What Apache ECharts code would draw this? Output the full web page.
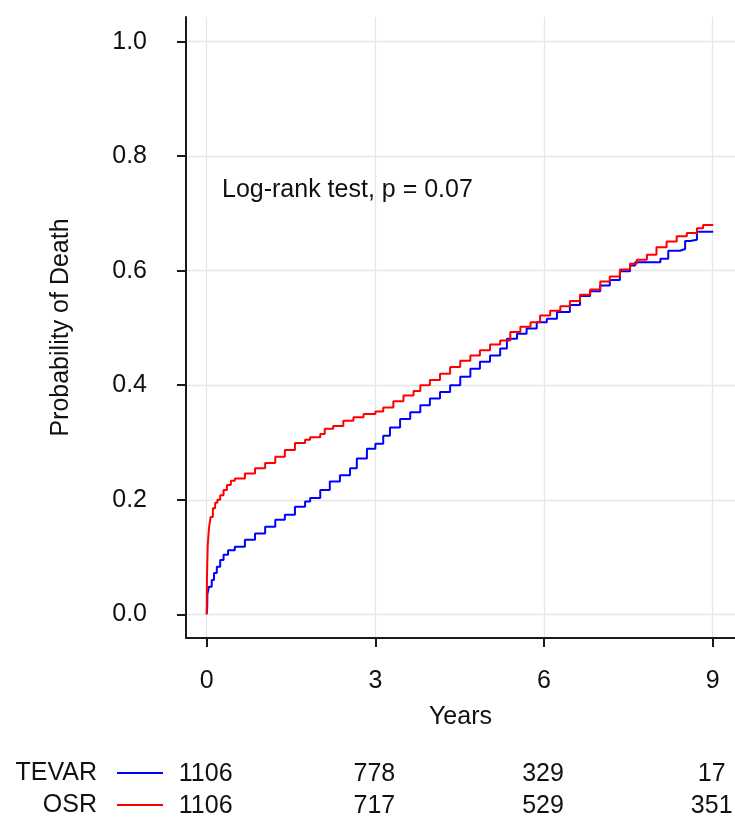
<!DOCTYPE html>
<html>
<head>
<meta charset="utf-8">
<script src="https://cdn.jsdelivr.net/npm/echarts@6/dist/echarts.min.js"></script>
<style>
html,body{margin:0;padding:0;background:#fff;}
#chart{width:735px;height:821px;}
</style>
</head>
<body>
<div id="chart"></div>
<script>
// ---- data ----
const groups = ['TEVAR', 'OSR'];
const groupColors = ['#0000ff', '#ff0000'];
const xTicks = [0, 3, 6, 9];
const yTicks = [0, 0.2, 0.4, 0.6, 0.8, 1.0];

// TEVAR cumulative probability of death [years, probability]
const tevarCurve = [
  [0,0],[0.01,0.013],[0.012,0.035],[0.04,0.048],[0.09,0.06],[0.13,0.072],[0.18,0.083],
  [0.24,0.095],[0.30,0.104],[0.38,0.112],[0.50,0.118],[0.68,0.130],[0.86,0.141],
  [1.04,0.153],[1.22,0.165],[1.39,0.174],[1.57,0.188],[1.75,0.197],[1.84,0.203],
  [2.02,0.217],[2.19,0.232],[2.37,0.243],[2.55,0.255],[2.67,0.272],[2.85,0.289],
  [3.00,0.298],[3.14,0.312],[3.26,0.326],[3.44,0.341],[3.62,0.353],[3.80,0.365],
  [3.97,0.377],[4.15,0.388],[4.33,0.400],[4.51,0.415],[4.69,0.429],[4.86,0.441],
  [5.04,0.452],[5.22,0.464],[5.34,0.481],[5.52,0.490],[5.69,0.499],[5.87,0.510],
  [6.05,0.516],[6.23,0.528],[6.46,0.540],[6.64,0.556],[6.82,0.564],[7.00,0.574],
  [7.17,0.584],[7.35,0.599],[7.53,0.609],[7.62,0.615],[8.07,0.621],[8.21,0.635],
  [8.42,0.638],[8.51,0.652],[8.60,0.654],[8.72,0.668],[9.01,0.668]
];

// OSR cumulative probability of death [years, probability]
const osrCurve = [
  [0,0],[0.005,0.065],[0.018,0.12],[0.04,0.15],[0.07,0.17],[0.11,0.185],[0.15,0.195],
  [0.19,0.2],[0.24,0.208],[0.30,0.217],[0.36,0.226],[0.43,0.233],[0.50,0.237],
  [0.68,0.246],[0.86,0.255],[1.04,0.264],[1.22,0.275],[1.39,0.287],[1.57,0.299],
  [1.75,0.305],[1.84,0.309],[2.02,0.315],[2.10,0.324],[2.25,0.329],[2.43,0.338],
  [2.61,0.344],[2.79,0.350],[3.00,0.354],[3.14,0.361],[3.32,0.372],[3.50,0.382],
  [3.68,0.390],[3.80,0.400],[3.97,0.409],[4.15,0.420],[4.33,0.432],[4.51,0.443],
  [4.69,0.452],[4.86,0.461],[5.04,0.471],[5.22,0.478],[5.40,0.493],[5.58,0.502],
  [5.76,0.510],[5.93,0.522],[6.11,0.530],[6.29,0.538],[6.46,0.547],[6.64,0.558],
  [6.82,0.567],[7.00,0.581],[7.17,0.590],[7.35,0.602],[7.53,0.612],[7.65,0.619],
  [7.83,0.628],[8.00,0.641],[8.18,0.651],[8.36,0.660],[8.54,0.666],[8.72,0.674],
  [8.83,0.680],[9.01,0.681]
];

// numbers at risk at xTicks
const tevarAtRisk = [1106, 778, 329, 17];
const osrAtRisk = [1106, 717, 529, 351];

const annotation = 'Log-rank test, p = 0.07';
const xName = 'Years';
const yName = 'Probability of Death';

// ---- chart ----
const FONT = "'Liberation Sans', Arial, sans-serif";
const FS = 25;
const TXT = '#111111';
const xMin = -0.368, xMax = 9.397;
const yMin = -0.0414, yMax = 1.0431;

const chart = echarts.init(document.getElementById('chart'), null, {renderer: 'canvas'});

function riskSeries(name, values) {
  return {
    type: 'scatter', xAxisIndex: 1, yAxisIndex: 1,
    symbolSize: 1, itemStyle: {color: 'rgba(255,255,255,0)'},
    silent: true,
    data: xTicks.map((t, i) => [t, name, values[i]]),
    label: {
      show: true, position: 'inside', offset: [-1, 1],
      formatter: p => String(p.value[2]),
      fontFamily: FONT, fontSize: FS, color: TXT,
      textBorderWidth: 0, opacity: 1
    }
  };
}

const option = {
  animation: false,
  backgroundColor: '#ffffff',
  textStyle: {fontFamily: FONT},
  grid: [
    {left: 186, top: 17, width: 549, height: 621, containLabel: false},
    {left: 186, top: 757, width: 549, height: 66, containLabel: false}
  ],
  xAxis: [
    {
      type: 'value', gridIndex: 0, min: xMin, max: xMax,
      name: xName, nameLocation: 'middle', nameGap: 67,
      nameTextStyle: {fontFamily: FONT, fontSize: FS, color: TXT},
      axisLine: {show: true, onZero: false, lineStyle: {color: '#1a1a1a', width: 2}},
      axisTick: {show: true, length: 9, customValues: xTicks, lineStyle: {color: '#1a1a1a', width: 2}},
      axisLabel: {show: true, customValues: xTicks, margin: 31, fontFamily: FONT, fontSize: FS, color: TXT},
      splitLine: {show: true, lineStyle: {color: '#e6e6e6', width: 1.3}}
    },
    {
      type: 'value', gridIndex: 1, min: xMin, max: xMax, show: false
    }
  ],
  yAxis: [
    {
      type: 'value', gridIndex: 0, min: yMin, max: yMax,
      name: yName, nameLocation: 'middle', nameGap: 112, nameRotate: 90,
      nameTextStyle: {fontFamily: FONT, fontSize: FS, color: TXT},
      axisLine: {show: true, onZero: false, lineStyle: {color: '#1a1a1a', width: 2}},
      axisTick: {show: true, length: 9, customValues: yTicks, lineStyle: {color: '#1a1a1a', width: 2}},
      axisLabel: {show: true, customValues: yTicks, margin: 39, padding: [5, 0, 0, 0],
        fontFamily: FONT, fontSize: FS, color: TXT,
        formatter: v => Number(v).toFixed(1)},
      splitLine: {show: true, lineStyle: {color: '#e6e6e6', width: 1.3}}
    },
    {
      type: 'category', gridIndex: 1, data: groups, inverse: true,
      axisLine: {show: false}, axisTick: {show: false}, splitLine: {show: false},
      axisLabel: {
        show: true, margin: 23,
        formatter: v => '{n|' + v + '}{s| }{' + (v === groups[0] ? 'b' : 'r') + '| }',
        rich: {
          n: {fontFamily: FONT, fontSize: FS, color: TXT},
          s: {width: 20, fontSize: FS},
          b: {width: 46, height: 2, backgroundColor: groupColors[0], fontSize: 2},
          r: {width: 46, height: 2, backgroundColor: groupColors[1], fontSize: 2}
        }
      }
    }
  ],
  series: [
    {
      name: groups[0], type: 'line', step: 'end', showSymbol: false, symbol: 'none',
      xAxisIndex: 0, yAxisIndex: 0,
      data: tevarCurve,
      lineStyle: {color: groupColors[0], width: 2}, z: 3
    },
    {
      name: groups[1], type: 'line', step: 'end', showSymbol: false, symbol: 'none',
      xAxisIndex: 0, yAxisIndex: 0,
      data: osrCurve,
      lineStyle: {color: groupColors[1], width: 2}, z: 4
    },
    riskSeries(groups[0], tevarAtRisk),
    riskSeries(groups[1], osrAtRisk)
  ],
  graphic: [
    {type: 'text', left: 222, top: 178, silent: true,
     style: {text: annotation, font: FS + 'px ' + FONT, fill: TXT}}
  ]
};
chart.setOption(option);
</script>
</body>
</html>
